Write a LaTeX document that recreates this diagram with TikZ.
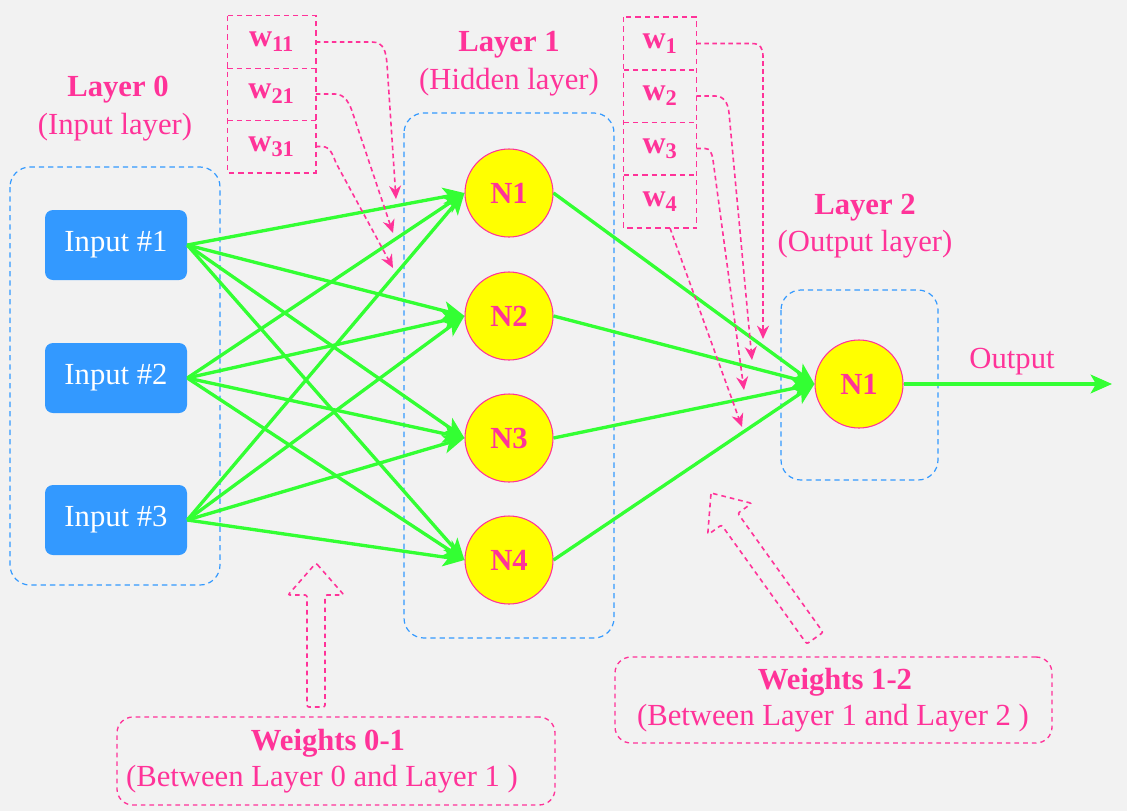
\documentclass[tikz,border=0pt]{standalone}
\usepackage{fontspec}
\setmainfont{Liberation Serif}
\usetikzlibrary{arrows.meta}
\definecolor{bg}{HTML}{F2F2F2}
\definecolor{pk}{HTML}{FF3399}
\definecolor{gr}{HTML}{33FF33}
\definecolor{bl}{HTML}{3399FF}
\definecolor{yl}{HTML}{FFFF00}
\begin{document}
\begin{tikzpicture}[x=0.75pt,y=-0.75pt,
 every node/.style={font=\fontsize{23}{27}\selectfont},
 grp/.style={draw=bl, dash pattern=on 4pt off 3pt, line width=0.9pt, rounded corners=15pt},
 inbox/.style={fill=bl, rounded corners=6pt, minimum width=106.5pt, minimum height=52.5pt, text=white, inner sep=0pt},
 neuron/.style={circle, draw=pk, fill=yl, line width=0.8pt, minimum size=66pt, inner sep=0pt, text=pk, font=\fontsize{23}{27}\selectfont\bfseries},
 wbox/.style={text=pk, inner sep=0pt, font=\fontsize{24}{27}\selectfont\bfseries},
 pkdash/.style={draw=pk, dash pattern=on 4pt off 3pt, line width=1.1pt},
 lbl/.style={text=pk, align=center},
 blbl/.style={text=pk, align=center, font=\fontsize{23}{27}\selectfont\bfseries},
 conn/.style={draw=gr, line width=2.5pt, -{Stealth[length=16pt,width=14pt,inset=4pt]}},
 warrow/.style={draw=pk, line width=1.2pt, dash pattern=on 3.5pt off 2.5pt, -{Stealth[length=10pt,width=9pt]}},
 hollow/.style={draw=pk, line width=1.2pt, dash pattern=on 3.5pt off 3pt, rounded corners=1.5pt},
 infobox/.style={draw=pk, dash pattern=on 3.5pt off 3pt, line width=1pt, rounded corners=12pt, inner sep=0pt}
]
\fill[bg] (0,0) rectangle (1127,811);

% groups
\draw[grp] (10,167) rectangle (220,585);
\draw[grp] (404,113) rectangle (614,638);
\draw[grp] (781,290) rectangle (938,480);

% labels
\node[blbl] (l0) at (118,90) {Layer 0};
\node[lbl] (l0s) at (115,127) {(Input layer)};
\node[blbl] (l1) at (509,45) {Layer 1};
\node[lbl] (l1s) at (509,82) {(Hidden layer)};
\node[blbl] (l2) at (865,208) {Layer 2};
\node[lbl] (l2s) at (865,244) {(Output layer)};

% inputs
\node[inbox] (in1) at (116,245) {Input \#1};
\node[inbox] (in2) at (116,378) {Input \#2};
\node[inbox] (in3) at (116,520) {Input \#3};

% neurons
\node[neuron] (h1) at (509,193) {N1};
\node[neuron] (h2) at (509,316) {N2};
\node[neuron] (h3) at (509,438) {N3};
\node[neuron] (h4) at (509,560) {N4};
\node[neuron] (out) at (859,384) {N1};

% weight boxes
\node[wbox, minimum width=66pt, minimum height=39pt] (w11) at (271.5,42) {w\textsubscript{11}};
\node[wbox, minimum width=66pt, minimum height=39pt] (w21) at (271.5,94) {w\textsubscript{21}};
\node[wbox, minimum width=66pt, minimum height=39pt] (w31) at (271.5,146.5) {w\textsubscript{31}};
\draw[pkdash] (w11.north west) rectangle (w31.south east);
\draw[pkdash] (w11.south west) -- (w11.south east);
\draw[pkdash] (w21.south west) -- (w21.south east);
\node[wbox, minimum width=54pt, minimum height=39.5pt] (v1) at (660,43.5) {w\textsubscript{1}};
\node[wbox, minimum width=54pt, minimum height=39.5pt] (v2) at (660,96) {w\textsubscript{2}};
\node[wbox, minimum width=54pt, minimum height=39.5pt] (v3) at (660,148.5) {w\textsubscript{3}};
\node[wbox, minimum width=54pt, minimum height=39.5pt] (v4) at (660,201.5) {w\textsubscript{4}};
\draw[pkdash] (v1.north west) rectangle (v4.south east);
\draw[pkdash] (v1.south west) -- (v1.south east);
\draw[pkdash] (v2.south west) -- (v2.south east);
\draw[pkdash] (v3.south west) -- (v3.south east);

% green connections
\foreach \i in {1,2,3}{
  \foreach \j in {1,2,3,4}{
    \draw[conn] (in\i.east) -- (h\j.west);
  }
}
\foreach \j in {1,2,3,4}{
  \draw[conn] (h\j.east) -- (out.west);
}
\coordinate (oend) at (1112,384);
\draw[conn] (out.east) -- (oend);
\node[lbl] (olbl) at (1012,362) {Output};

% weight arrows
\draw[warrow] (w11.east) -- (372,42) .. controls (384,42) and (386,52) .. (387,64) -- (396,199);
\draw[warrow] (w21.east) -- (335,94) .. controls (345,94) and (350,104) .. (353,114) -- (393,233);
\draw[warrow] (w31.east) -- (322,146.5) .. controls (330,146.5) and (333,155) .. (336,163) -- (393,268);
\draw[warrow] (v1.east) -- (752,43.5) .. controls (760,43.5) and (763,48) .. (763,56) -- (763,339);
\draw[warrow] (v2.east) -- (715,96) .. controls (724,96) and (728,103) .. (729,113) -- (752,360);
\draw[warrow] (v3.east) -- (705,148.5) .. controls (710,148.5) and (712,153) .. (713,160) -- (744,390);
\draw[warrow] ([xshift=7.5pt]v4.south) -- (742,427);

% hollow arrows
\draw[hollow] (316,563) -- (344,595) -- (325,595) -- (325,707) -- (307,707) -- (307,595) -- (288,595) -- cycle;
\draw[hollow] (711,493) -- (751.7,503.3) -- (737.8,513.3) -- (823.1,632.3) -- (806.8,643.9) -- (721.5,524.9) -- (707.7,534.9) -- cycle;

% info boxes
\node[infobox, minimum width=328.5pt, minimum height=66pt] (ib1) at (336,761) {};
\node[blbl] (ib1a) at (328,743) {Weights 0-1};
\node[lbl] (ib1b) at (322,779) {(Between Layer 0 and Layer 1 )};
\node[infobox, minimum width=327.75pt, minimum height=64.5pt] (ib2) at (833.5,700) {};
\node[blbl] (ib2a) at (835,682) {Weights 1-2};
\node[lbl] (ib2b) at (833,718) {(Between Layer 1 and Layer 2 )};
\end{tikzpicture}
\end{document}
